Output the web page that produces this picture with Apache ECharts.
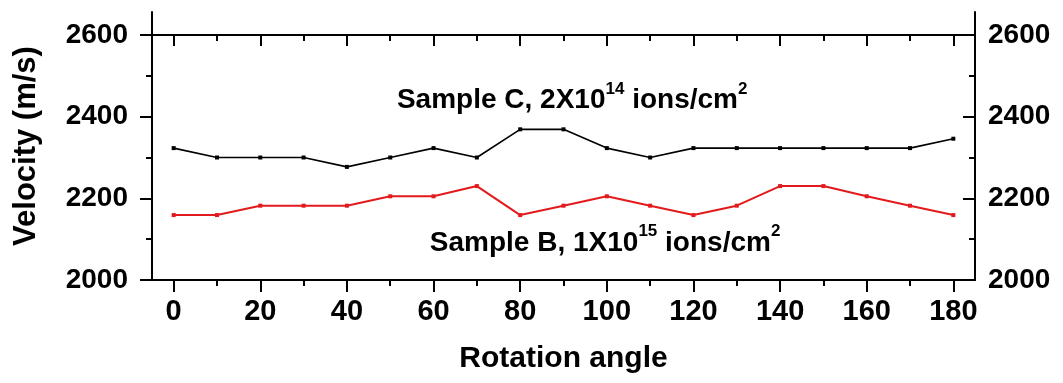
<!DOCTYPE html>
<html>
<head>
<meta charset="utf-8">
<script src="https://cdn.jsdelivr.net/npm/echarts@6/dist/echarts.min.js"></script>
<style>
  html, body { margin: 0; padding: 0; background: #fff; }
  #chart { width: 1063px; height: 383px; }
</style>
</head>
<body>
<div id="chart"></div>
<script>
// rotation angle (deg)
const angles = [0, 10, 20, 30, 40, 50, 60, 70, 80, 90, 100, 110, 120, 130, 140, 150, 160, 170, 180]
// velocity (m/s)
const sampleC = [2323, 2300, 2300, 2300, 2277, 2300, 2323, 2300, 2369, 2369, 2323, 2300, 2323, 2323, 2323, 2323, 2323, 2323, 2346]
const sampleB = [2159, 2159, 2182, 2182, 2182, 2205, 2205, 2230, 2159, 2182, 2205, 2182, 2159, 2182, 2230, 2230, 2205, 2182, 2159]
// ticks
const xMajorTicks = [0, 20, 40, 60, 80, 100, 120, 140, 160, 180]
const xMinorTicks = [10, 30, 50, 70, 90, 110, 130, 150, 170]

const FONT = '"Liberation Sans", Arial, sans-serif'
const axisLineStyle = { color: '#000', width: 2 }

const chart = echarts.init(document.getElementById('chart'))

const labelRich = {
  a: { fontSize: 28, fontWeight: 'bold', fontFamily: FONT, color: '#000', lineHeight: 40 },
  s: { fontSize: 17, fontWeight: 'bold', fontFamily: FONT, color: '#000', lineHeight: 17, verticalAlign: 'top' }
}

const xBase = {
  type: 'value',
  gridIndex: 0,
  min: -5,
  max: 185,
  splitLine: { show: false },
  axisLine: { onZero: false, lineStyle: axisLineStyle }
}

const yBase = {
  type: 'value',
  gridIndex: 0,
  min: 2000,
  max: 2600,
  interval: 200,
  splitLine: { show: false },
  axisLine: { show: true, onZero: false, lineStyle: axisLineStyle },
  axisTick: { length: 12, lineStyle: { color: '#000', width: 2 } },
  minorTick: { show: true, splitNumber: 2, length: 6, lineStyle: { color: '#000', width: 2 } }
}

const yLabel = {
  fontSize: 28,
  fontWeight: 'bold',
  fontFamily: FONT,
  color: '#000',
  formatter: v => String(v)
}

const option = {
  animation: false,
  backgroundColor: '#fff',
  grid: [
    { left: 152, right: 88, top: 35, bottom: 103 },
    { left: 152, right: 88, top: 12, bottom: 103 }
  ],
  xAxis: [
    {
      ...xBase,
      position: 'bottom',
      name: 'Rotation angle',
      nameLocation: 'middle',
      nameGap: 64,
      nameTextStyle: { fontSize: 30, fontWeight: 'bold', fontFamily: FONT, color: '#000' },
      axisTick: { customValues: xMajorTicks, length: 12, lineStyle: { color: '#000', width: 2 } },
      axisLabel: { customValues: xMajorTicks, margin: 17, fontSize: 29, fontWeight: 'bold', fontFamily: FONT, color: '#000' }
    },
    {
      ...xBase,
      position: 'bottom',
      axisLine: { show: false, onZero: false },
      axisTick: { customValues: xMinorTicks, length: 6, lineStyle: { color: '#000', width: 2 } },
      axisLabel: { show: false }
    },
    {
      ...xBase,
      position: 'top',
      axisTick: { inside: true, customValues: xMajorTicks, length: 11, lineStyle: { color: '#000', width: 2 } },
      axisLabel: { show: false }
    },
    {
      ...xBase,
      position: 'top',
      axisLine: { show: false, onZero: false },
      axisTick: { inside: true, customValues: xMinorTicks, length: 6, lineStyle: { color: '#000', width: 2 } },
      axisLabel: { show: false }
    },
    { type: 'value', gridIndex: 1, show: false, min: 0, max: 1 }
  ],
  yAxis: [
    {
      ...yBase,
      position: 'left',
      axisLabel: { ...yLabel, margin: 24 }
    },
    {
      ...yBase,
      position: 'right',
      axisTick: { inside: true, length: 12, lineStyle: { color: '#000', width: 2 } },
      axisLabel: { ...yLabel, margin: 13 }
    },
    {
      type: 'value',
      gridIndex: 1,
      position: 'left',
      min: 0,
      max: 1,
      name: 'Velocity (m/s)',
      nameLocation: 'middle',
      nameGap: 110,
      nameTextStyle: { fontSize: 31, fontWeight: 'bold', fontFamily: FONT, color: '#000' },
      splitLine: { show: false },
      axisTick: { show: false },
      axisLabel: { show: false },
      axisLine: { show: true, onZero: false, lineStyle: axisLineStyle }
    },
    {
      type: 'value',
      gridIndex: 1,
      position: 'right',
      min: 0,
      max: 1,
      splitLine: { show: false },
      axisTick: { show: false },
      axisLabel: { show: false },
      axisLine: { show: true, onZero: false, lineStyle: axisLineStyle }
    }
  ],
  series: [
    {
      name: 'Sample C',
      type: 'line',
      xAxisIndex: 0,
      yAxisIndex: 0,
      data: angles.map((a, i) => [a, sampleC[i]]),
      symbol: 'rect',
      symbolSize: 4,
      lineStyle: { color: '#000', width: 1.6 },
      itemStyle: { color: '#000' },
      markPoint: {
        symbol: 'rect',
        symbolSize: 0,
        itemStyle: { color: 'rgba(0,0,0,0)' },
        label: {
          show: true,
          position: 'inside',
          formatter: '{a|Sample C, 2X10}{s|14}{a| ions/cm}{s|2}',
          rich: labelRich
        },
        data: [{ coord: [92, 2439] }]
      }
    },
    {
      name: 'Sample B',
      type: 'line',
      xAxisIndex: 0,
      yAxisIndex: 0,
      data: angles.map((a, i) => [a, sampleB[i]]),
      symbol: 'rect',
      symbolSize: 4,
      lineStyle: { color: '#e31a1c', width: 2 },
      itemStyle: { color: '#e31a1c' },
      markPoint: {
        symbol: 'rect',
        symbolSize: 0,
        itemStyle: { color: 'rgba(0,0,0,0)' },
        label: {
          show: true,
          position: 'inside',
          formatter: '{a|Sample B, 1X10}{s|15}{a| ions/cm}{s|2}',
          rich: labelRich
        },
        data: [{ coord: [99.6, 2091] }]
      }
    }
  ]
}

chart.setOption(option)
</script>
</body>
</html>
